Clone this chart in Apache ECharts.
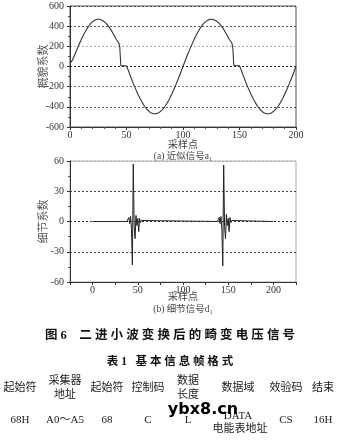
<!DOCTYPE html>
<html><head><meta charset="utf-8">
<script src="https://cdn.jsdelivr.net/npm/echarts@6/dist/echarts.min.js"></script>
<style>html,body{margin:0;padding:0;background:#fff}#c{width:351px;height:442px}</style>
</head><body><div id="c"></div>
<script>
// (a) approximation signal a1
var approxSamples = [0,2,4,6,8,10,12,14,16,18,20,22,24,26,28,30,32,34,36,38,40,41,42,43,44,45,46,48,50,51,52,54,56,58,60,62,64,66,68,70,72,74,76,78,80,82,84,86,88,90,92,94,96,98,100,
  102,104,106,108,110,112,114,116,118,120,122,124,126,128,130,132,134,136,138,140,141,142,143,144,145,146,148,150,151,152,154,156,158,160,162,164,166,168,170,172,174,176,178,180,182,184,186,188,190,192,194,196,198,200];
var approxValues = [30,60,112,165,218,268,314,355,392,422,444,460,468,468,461,447,427,400,368,330,290,268,252,238,200,8,10,8,6,0,-50,-110,-168,-222,-272,-318,-358,-394,-424,-446,-461,-469,-469,-462,-447,-426,-397,-362,-322,-276,-226,-172,-117,-59,0,
  59,117,170,222,272,318,358,394,423,445,460,468,468,461,447,427,400,368,330,290,268,252,238,200,8,10,8,6,0,-50,-110,-168,-222,-272,-318,-358,-394,-424,-446,-461,-469,-469,-462,-447,-426,-397,-362,-322,-276,-226,-172,-117,-59,0];
// (b) detail signal d1
var detailSamples = [0,38,39,40,41,42,43,44,45,46,47,48,49,50,51,52,53,54,55,138,139,140,141,142,143,144,145,146,147,148,149,150,151,152,153,154,155,200];
var detailValues  = [0,0,1,4,-2,5,-8,-43,57,-5,-17,6,-4,3,-10,3,-1,1,0,0,1,4,-2,5,-8,-44,56,-5,-17,7,-4,3,-10,4,-1,1,0,0];
var approxYTicks = [-600,-400,-200,0,200,400,600];
var detailYTicks = [-60,-30,0,30,60];
var xTicks = [0,50,100,150,200];
// table
var tableHeaders = [['起始符'],['采集器','地址'],['起始符'],['控制码'],['数据','长度'],['数据域'],['效验码'],['结束']];
var tableRow = [['68H'],['A0～A5'],['68'],['C'],['L'],['DATA','电能表地址'],['CS'],['16H']];

function pairs(xs, ys){ return xs.map(function(x,i){ return [x, ys[i]]; }); }

var numFont = 'Liberation Serif';
var cjk = '"Noto Sans CJK SC"';
var chart = echarts.init(document.getElementById('c'), null, {renderer:'canvas'});

var colX = [20,65,107,148,188,238,286,323];
var graphics = [];
function txt(x,y,t,size,opts){
  opts = opts || {};
  graphics.push({type:'text', x:x, y:y, silent:true, style:Object.assign({text:t, fill:opts.fill||'#222', font:(opts.weight||'normal')+' '+size+'px '+(opts.family||('"Liberation Serif", '+cjk)), align:'center', verticalAlign:'middle', textAlign:'center', textVerticalAlign:'middle'}, opts.style||{})});
}
txt(183,145,'采样点',10,{fill:'#444'});
txt(183,156,'(a) 近似信号a₁',9.5,{fill:'#444'});
txt(183,297,'采样点',10,{fill:'#444'});
txt(183,309,'(b) 细节信号d₁',9.5,{fill:'#444'});
txt(170,336,'图 6    二 进 小 波 变 换 后 的 畸 变 电 压 信 号',12.5,{fill:'#111',weight:'bold'});
txt(170,362,'表 1   基 本 信 息 帧 格 式',11.5,{fill:'#111',weight:'bold'});
tableHeaders.forEach(function(h,i){
  if(h.length===1){ txt(colX[i],388,h[0],11,{fill:'#222'}); }
  else { txt(colX[i],381,h[0],11,{fill:'#222'}); txt(colX[i],395,h[1],11,{fill:'#222'}); }
});
tableRow.forEach(function(h,i){
  var st = i===4 ? {fontStyle:'italic'} : {};
  if(h.length===1){ txt(colX[i],420,h[0],11,{fill:'#222', style:st}); }
  else { txt(colX[i],416,h[0],11,{fill:'#222'}); txt(colX[i]+2,429,h[1],11,{fill:'#222'}); }
});
txt(203,410,'ybx8.cn',16,{fill:'#000',weight:'bold',family:'"DejaVu Sans"'});

var axisLabelStyle = {color:'#333', fontSize:10, fontFamily:numFont, margin:3};
var dash = {type:[2,2], width:1};

var option = {
  animation:false,
  backgroundColor:'#fff',
  grid:[
    {left:70, top:6, width:226, height:121, show:true, borderColor:'#555', borderWidth:1},
    {left:70, top:161, width:226, height:121, show:true, borderColor:'#aaa', borderWidth:1}
  ],
  xAxis:[
    {gridIndex:0, type:'value', min:0, max:200, interval:50,
     axisLine:{onZero:false, lineStyle:{color:'#333'}}, axisTick:{length:3, lineStyle:{color:'#333'}},
     minorTick:{show:true, splitNumber:5, length:2, lineStyle:{color:'#555'}},
     axisLabel:axisLabelStyle, splitLine:{show:false}},
    {gridIndex:1, type:'value', min:-25, max:225, interval:25,
     axisLine:{onZero:false, lineStyle:{color:'#333'}}, axisTick:{length:3, lineStyle:{color:'#333'}},
     axisLabel:Object.assign({}, axisLabelStyle, {formatter:function(v){ return xTicks.indexOf(v)>=0 ? String(v) : ''; }}),
     splitLine:{show:false}}
  ],
  yAxis:[
    {gridIndex:0, type:'value', min:-600, max:600, interval:200,
     name:'概貌系数', nameLocation:'middle', nameGap:22, nameRotate:90, nameMoveOverlap:false,
     nameTextStyle:{color:'#555', fontSize:11, fontFamily:cjk},
     axisLine:{show:true, onZero:false, lineStyle:{color:'#333'}}, axisTick:{show:true, length:3, lineStyle:{color:'#333'}},
     minorTick:{show:true, splitNumber:2, length:2, lineStyle:{color:'#555'}},
     axisLabel:Object.assign({}, axisLabelStyle, {margin:6, formatter:function(v){ return approxYTicks.indexOf(v)>=0 ? String(v) : ''; }}),
     splitLine:{show:true, lineStyle:Object.assign({}, dash, {color:['#444','#555','#777','#222','#aaa','#555','#444']})}},
    {gridIndex:1, type:'value', min:-60, max:60, interval:30,
     name:'细节系数', nameLocation:'middle', nameGap:22, nameRotate:90, nameMoveOverlap:false,
     nameTextStyle:{color:'#555', fontSize:11, fontFamily:cjk},
     axisLine:{show:true, onZero:false, lineStyle:{color:'#333'}}, axisTick:{show:true, length:3, lineStyle:{color:'#333'}},
     minorTick:{show:true, splitNumber:2, length:2, lineStyle:{color:'#555'}},
     axisLabel:Object.assign({}, axisLabelStyle, {margin:6, formatter:function(v){ return detailYTicks.indexOf(v)>=0 ? String(v) : ''; }}),
     splitLine:{show:true, lineStyle:Object.assign({}, dash, {color:['#aaa','#444','#333','#444','#aaa']})}}
  ],
  series:[
    {type:'line', xAxisIndex:0, yAxisIndex:0, data:pairs(approxSamples, approxValues), showSymbol:false, symbol:'none',
     lineStyle:{color:'#333', width:1.1}},
    {type:'line', xAxisIndex:1, yAxisIndex:1, data:pairs(detailSamples, detailValues), showSymbol:false, symbol:'none',
     lineStyle:{color:'#222', width:1}}
  ],
  graphic:graphics
};
chart.setOption(option);
</script>
</body></html>
